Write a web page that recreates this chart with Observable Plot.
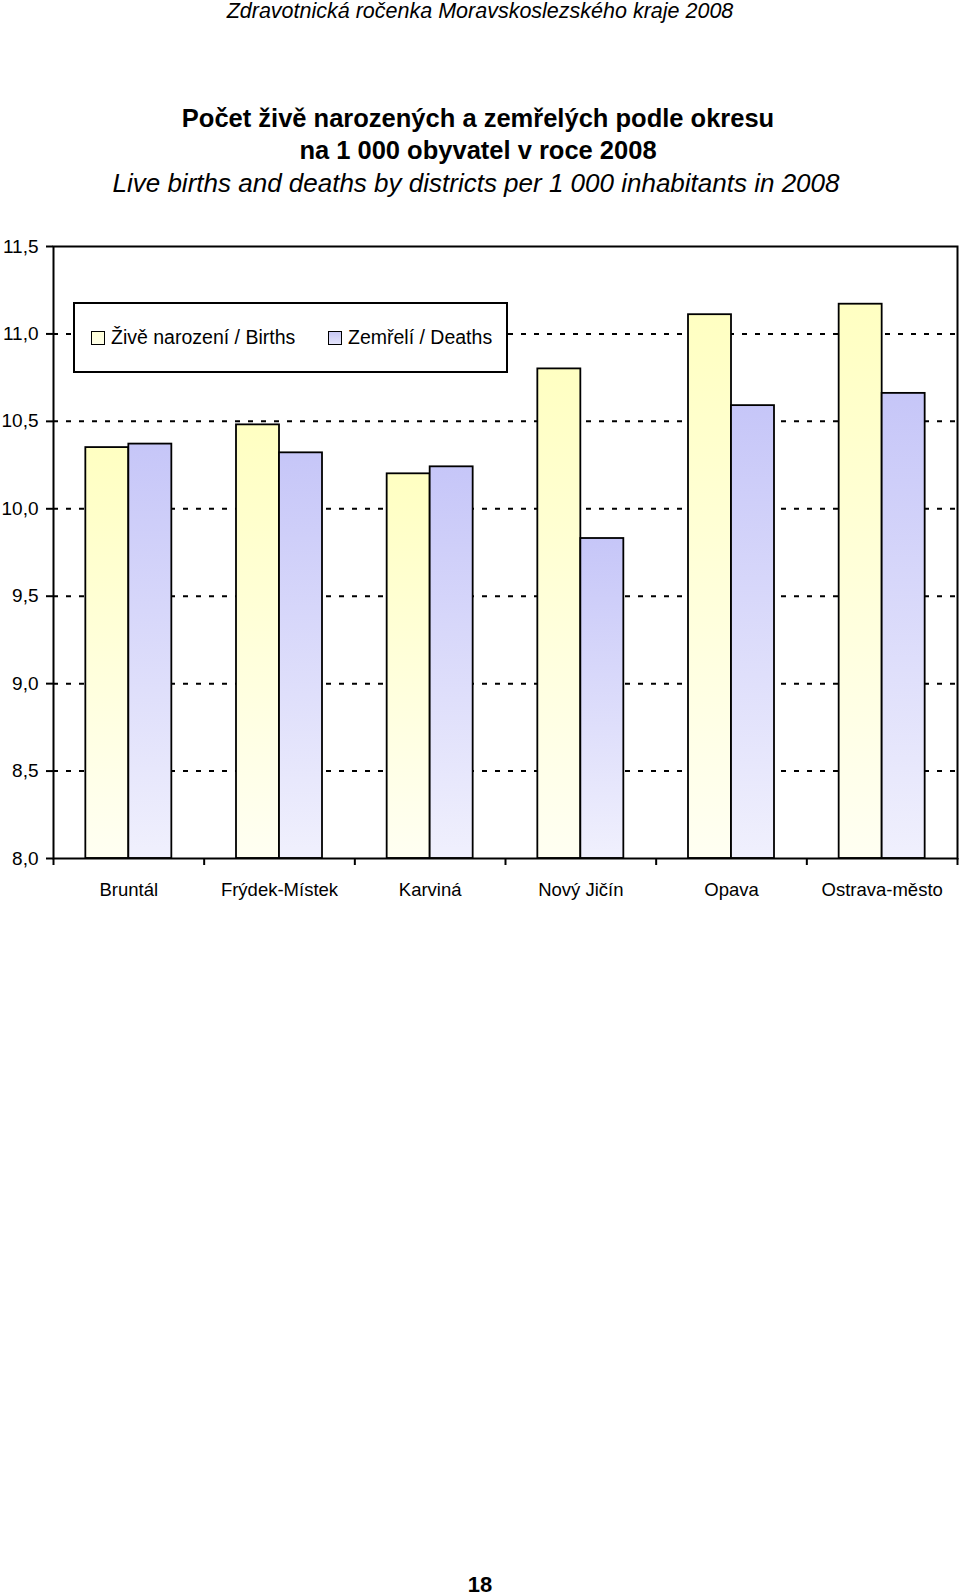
<!DOCTYPE html>
<html>
<head>
<meta charset="utf-8">
<script src="https://cdn.jsdelivr.net/npm/d3@7"></script>
<script src="https://cdn.jsdelivr.net/npm/@observablehq/plot@0.6"></script>
<style>
  html, body { margin: 0; padding: 0; background: #fff; }
  #page { position: relative; width: 960px; height: 1596px; background: #fff; overflow: hidden;
          font-family: "Liberation Sans", Arial, Helvetica, sans-serif; color: #000; }
  .t { position: absolute; left: 0; width: 956px; text-align: center; line-height: 1; white-space: nowrap; }
  #chart { position: absolute; left: 0; top: 220px; }
  #legend { position: absolute; left: 73px; top: 302px; width: 431px; height: 67px;
            border: 2px solid #000; background: #fff; }
  .sw { position: absolute; width: 12px; height: 12px; border: 1.5px solid #000; }
  .lt { position: absolute; font-size: 19.5px; line-height: 1; white-space: nowrap; }
</style>
</head>
<body>
<div id="page">
  <div class="t" id="hdr" style="top:0.5px; font-size:21.5px; font-style:italic; width:960px;">Zdravotnická ročenka Moravskoslezského kraje 2008</div>
  <div class="t" id="t1" style="top:106px; font-size:25.5px; font-weight:bold;">Počet živě narozených a zemřelých podle okresu</div>
  <div class="t" id="t2" style="top:137.5px; font-size:25.5px; font-weight:bold;">na 1 000 obyvatel v roce 2008</div>
  <div class="t" id="t3" style="top:170px; font-size:26px; font-style:italic; width:952px;">Live births and deaths by districts per 1 000 inhabitants in 2008</div>
  <div id="chart"></div>
  <div id="legend"></div>
  <div class="t" id="pg" style="top:1574px; font-size:22px; font-weight:bold; width:960px;">18</div>
</div>
<script>
// ---- data ----
const districts = ["Bruntál", "Frýdek-Místek", "Karviná", "Nový Jičín", "Opava", "Ostrava-město"];
const births = [10.35, 10.48, 10.20, 10.80, 11.11, 11.17];
const deaths = [10.37, 10.32, 10.24, 9.83, 10.59, 10.66];
const seriesNames = ["Živě narození / Births", "Zemřelí / Deaths"];
const yTicks = [8.0, 8.5, 9.0, 9.5, 10.0, 10.5, 11.0, 11.5];

const yMin = yTicks[0], yMax = yTicks[yTicks.length - 1];
const half = 0.2854; // bar width as a share of one category step
const idx = districts.map((d, i) => i);
const rows = districts.flatMap((d, i) => [
  {i, district: d, series: 0, value: births[i]},
  {i, district: d, series: 1, value: deaths[i]}
]);
const fmt = v => d3.format(".1f")(v).replace(".", ",");

const plot = Plot.plot({
  width: 960,
  height: 700,
  marginTop: 26,
  marginBottom: 62,
  marginLeft: 53,
  marginRight: 3,
  style: {fontFamily: '"Liberation Sans", Arial, Helvetica, sans-serif', fontSize: "18.5px", color: "#000", background: "#fff", overflow: "visible"},
  x: {type: "linear", domain: [-0.5, districts.length - 0.5]},
  y: {domain: [yMin, yMax]},
  marks: [
    Plot.ruleY(yTicks.filter(v => v > yMin && v < yMax), {stroke: "#000", strokeWidth: 2, strokeDasharray: "5,8"}),
    Plot.rect(rows, {
      x1: d => d.series === 0 ? d.i - half : d.i,
      x2: d => d.series === 0 ? d.i : d.i + half,
      y1: () => yMin,
      y2: "value",
      fill: d => d.series === 0 ? "url(#gBirths)" : "url(#gDeaths)",
      stroke: "#000",
      strokeWidth: 1.8
    }),
    Plot.frame({stroke: "#000", strokeWidth: 2}),
    Plot.axisY({ticks: yTicks, tickFormat: fmt, tickSize: 7, tickPadding: 8, strokeWidth: 2, fill: "#000", label: null, fontSize: "19px"}),
    Plot.axisX({ticks: idx, tickFormat: i => districts[i], tickSize: 0, tickPadding: 24, fill: "#000", label: null}),
    Plot.axisX({ticks: d3.range(-0.5, districts.length, 1), tickFormat: () => "", tickSize: 7, strokeWidth: 2, label: null})
  ]
});

// gradient definitions for the bar fills
const defs = d3.select(plot).insert("defs", ":first-child");
function grad(id, top, bottom) {
  const g = defs.append("linearGradient").attr("id", id).attr("x1", 0).attr("y1", 0).attr("x2", 0).attr("y2", 1);
  g.append("stop").attr("offset", "0%").attr("stop-color", top);
  g.append("stop").attr("offset", "100%").attr("stop-color", bottom);
}
grad("gBirths", "#ffffc2", "#fffff2");
grad("gDeaths", "#c6c6f8", "#f0f0fd");

document.getElementById("chart").appendChild(plot);

// legend
const legend = document.getElementById("legend");
const swatchFills = ["linear-gradient(#ffffd8, #ffffe8)", "linear-gradient(#c8c8f4, #e4e4fb)"];
const swX = [16, 253], txX = [36, 273];
seriesNames.forEach((name, k) => {
  const sw = document.createElement("div");
  sw.className = "sw";
  sw.style.left = swX[k] + "px";
  sw.style.top = "27px";
  sw.style.background = swatchFills[k];
  legend.appendChild(sw);
  const tx = document.createElement("div");
  tx.className = "lt";
  tx.style.left = txX[k] + "px";
  tx.style.top = "24px";
  tx.textContent = name;
  legend.appendChild(tx);
});
</script>
</body>
</html>
